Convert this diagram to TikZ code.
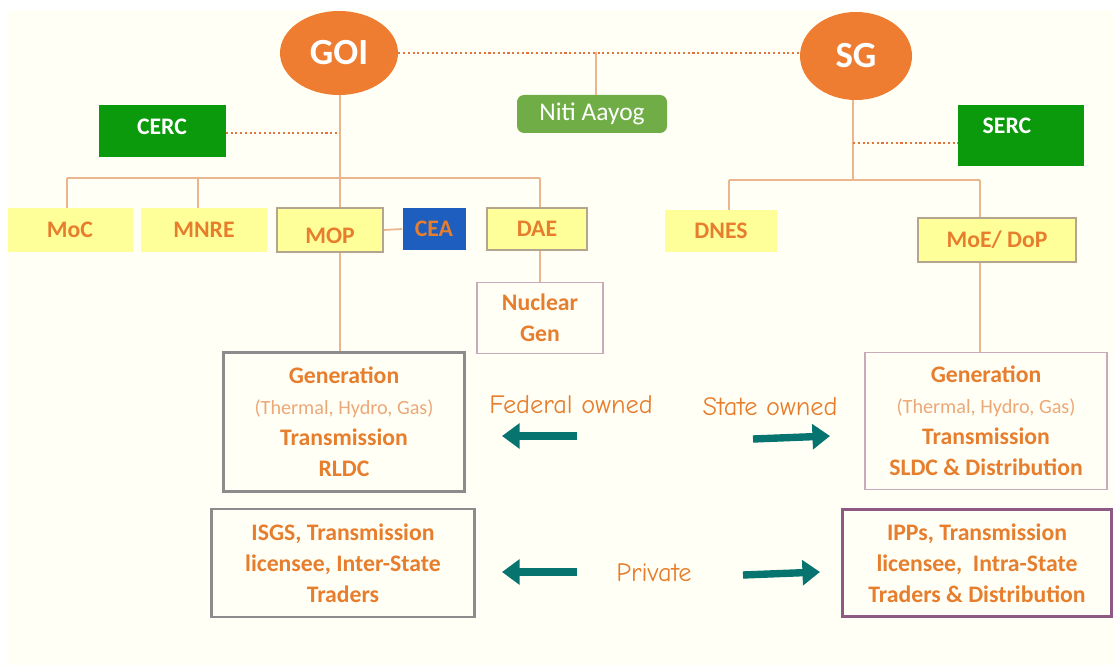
\documentclass[tikz,border=0pt]{standalone}
\usepackage{fontspec}
\setmainfont{Carlito}
\newfontfamily\labfont{Comic Neue}
\usetikzlibrary{arrows.meta,shapes.geometric}
\newcommand\px{0.02cm}
\definecolor{cream}{HTML}{FFFFF5}
\definecolor{txtor}{HTML}{E67E2E}
\definecolor{lightor}{HTML}{EDA877}
\definecolor{ellor}{HTML}{EE7D31}
\definecolor{gdark}{HTML}{0B9A0B}
\definecolor{gniti}{HTML}{70AD47}
\definecolor{yel}{HTML}{FFFF99}
\definecolor{ceablue}{HTML}{1E5EBE}
\definecolor{tan}{HTML}{EBB68E}
\definecolor{dotor}{HTML}{E4753A}
\definecolor{teal}{HTML}{077470}
\definecolor{bgray}{HTML}{8C8C8C}
\definecolor{bmop}{HTML}{B5A58E}
\definecolor{bpink}{HTML}{C9AABB}
\definecolor{bpurple}{HTML}{8E5A84}
\tikzset{
  govt/.style={ellipse,fill=ellor,draw=none,minimum width=118*\px,minimum height=84*\px,inner sep=0pt,text=white,font=\fontsize{21}{24}\selectfont\bfseries},
  regbox/.style={rectangle,fill=gdark,draw=none,inner sep=0pt,text=white,font=\fontsize{13.5}{16}\selectfont\bfseries},
  minbox/.style={rectangle,fill=yel,inner sep=0pt,text=txtor,font=\fontsize{13.5}{16}\selectfont\bfseries},
  infobox/.style={rectangle,fill=cream,inner sep=0pt,text=txtor,align=center,font=\fontsize{13.5}{17.6}\selectfont\bfseries},
  link/.style={draw=tan,line width=1pt},
  dotlink/.style={draw=dotor,line width=1.6pt,dash pattern=on 1.2pt off 1.5pt},
  bigarrow/.style={draw=teal,line width=4.2pt,-{Triangle[length=10pt,width=14pt]}},
  lab/.style={text=txtor,font=\labfont\fontsize{15}{18}\selectfont},
}
\newcommand\subtxt[1]{{\mdseries\color{lightor}\fontsize{11.5}{17.6}\selectfont #1}}
\begin{document}
\begin{tikzpicture}[x=0.02cm,y=-0.02cm]
\useasboundingbox (0,0) rectangle (1114,665);
\fill[white] (0,0) rectangle (1114,665);
\fill[cream] (7,10) rectangle (1114,665);

% top level
\node[govt] (goi) at (339,53) {GOI};
\node[govt,minimum width=112*\px,minimum height=88*\px] (sg) at (856,56) {SG};
\node[rectangle,rounded corners=4pt,fill=gniti,minimum width=150*\px,minimum height=38*\px,inner sep=0pt,text=white,font=\fontsize{14.5}{17}\selectfont] (niti) at (592,114) {Niti Aayog};
\node[regbox,minimum width=127*\px,minimum height=52*\px] (cerc) at (162,131) {\raisebox{-1.8pt}[0pt][0pt]{CERC}};
\node[regbox,minimum width=126*\px,minimum height=61*\px] (serc) at (1021,136) {\hspace*{-16pt}\raisebox{1.6pt}[0pt][0pt]{SERC}};

% ministries
\node[minbox,draw=none,minimum width=125*\px,minimum height=44*\px] (moc) at (70,230) {MoC};
\node[minbox,draw=none,minimum width=126*\px,minimum height=44*\px] (mnre) at (204,230) {MNRE};
\node[minbox,draw=bmop,line width=1pt,minimum width=106*\px,minimum height=44*\px] (mop) at (330,230) {\raisebox{-7.5pt}[0pt][0pt]{MOP}};
\node[rectangle,fill=ceablue,inner sep=0pt,minimum width=63*\px,minimum height=42*\px,text=txtor,font=\fontsize{13.5}{16}\selectfont\bfseries] (cea) at (434,229) {CEA};
\node[minbox,draw=bmop,line width=1pt,minimum width=100*\px,minimum height=42*\px] (dae) at (537,229) {DAE};
\node[minbox,draw=none,minimum width=112*\px,minimum height=42*\px] (dnes) at (721,231) {DNES};
\node[minbox,draw=bmop,line width=1pt,minimum width=158*\px,minimum height=44*\px] (moe) at (997,240) {MoE/ DoP};

% lower boxes
\node[infobox,draw=bpink,line width=1pt,minimum width=126*\px,minimum height=71*\px] (nuc) at (540,318) {Nuclear\\Gen};
\node[infobox,draw=bgray,line width=1.2pt,minimum width=241*\px,minimum height=139*\px] (lgen) at (344,422)
  {Generation\\\subtxt{(Thermal, Hydro, Gas)}\\Transmission\\RLDC};
\node[infobox,draw=bpink,line width=1pt,minimum width=242*\px,minimum height=137*\px] (rgen) at (986,421)
  {Generation\\\subtxt{(Thermal, Hydro, Gas)}\\Transmission\\SLDC \& Distribution};
\node[infobox,draw=bgray,line width=1.2pt,minimum width=263*\px,minimum height=108*\px] (lpriv) at (343,563)
  {ISGS, Transmission\\licensee, Inter-State\\Traders};
\node[infobox,draw=bpurple,line width=1.2pt,minimum width=269*\px,minimum height=107*\px] (rpriv) at (977,563)
  {IPPs, Transmission\\licensee,\ \ Intra-State\\Traders \& Distribution};

% labels
\node[lab] (fed) at (571,405) {Federal owned};
\node[lab] (state) at (770,407) {State owned};
\node[lab] (priv) at (654,573) {Private};

% coordinates
\coordinate (nitij) at (596,52);
\coordinate (goibar) at (340,178);
\coordinate (barL) at (67,178);
\coordinate (barM) at (198,178);
\coordinate (barR) at (540,178);
\coordinate (cercj) at (340,133);
\coordinate (sgbar) at (853,180);
\coordinate (sbarL) at (729,180);
\coordinate (sbarR) at (980,180);
\coordinate (sercj) at (853,143);

% connectors
\draw[dotlink] (goi.east) -- (sg.west |- goi.east);
\draw[link] (nitij) -- (niti.north -| nitij);
\draw[dotlink] (cerc.east |- cercj) -- (cercj);
\draw[link] (goi.south -| goibar) -- (mop.north -| goibar);
\draw[link] (barL) -- (barR);
\draw[link] (barL) -- (moc.north -| barL);
\draw[link] (barM) -- (mnre.north -| barM);
\draw[link] (barR) -- (dae.north -| barR);
\draw[link] (mop.east) -- (cea.west);
\draw[link] (dae.south -| barR) -- (nuc.north -| barR);
\draw[link] (mop.south -| goibar) -- (lgen.north -| goibar);

\draw[link] (sg.south -| sgbar) -- (sgbar);
\draw[dotlink] (sercj) -- (serc.west |- sercj);
\draw[link] (sbarL) -- (sbarR);
\draw[link] (sbarL) -- (dnes.north -| sbarL);
\draw[link] (sbarR) -- (moe.north -| sbarR);
\draw[link] (moe.south -| sbarR) -- (rgen.north -| sbarR);

% arrows
\coordinate (a1s) at (577,436); \coordinate (a1e) at (502,436);
\coordinate (a2s) at (753,439); \coordinate (a2e) at (830,436);
\coordinate (a3s) at (577,572); \coordinate (a3e) at (502,572);
\coordinate (a4s) at (743,575); \coordinate (a4e) at (820,572);
\draw[bigarrow] (a1s) -- (a1e);
\draw[bigarrow] (a2s) -- (a2e);
\draw[bigarrow] (a3s) -- (a3e);
\draw[bigarrow] (a4s) -- (a4e);
\end{tikzpicture}
\end{document}
